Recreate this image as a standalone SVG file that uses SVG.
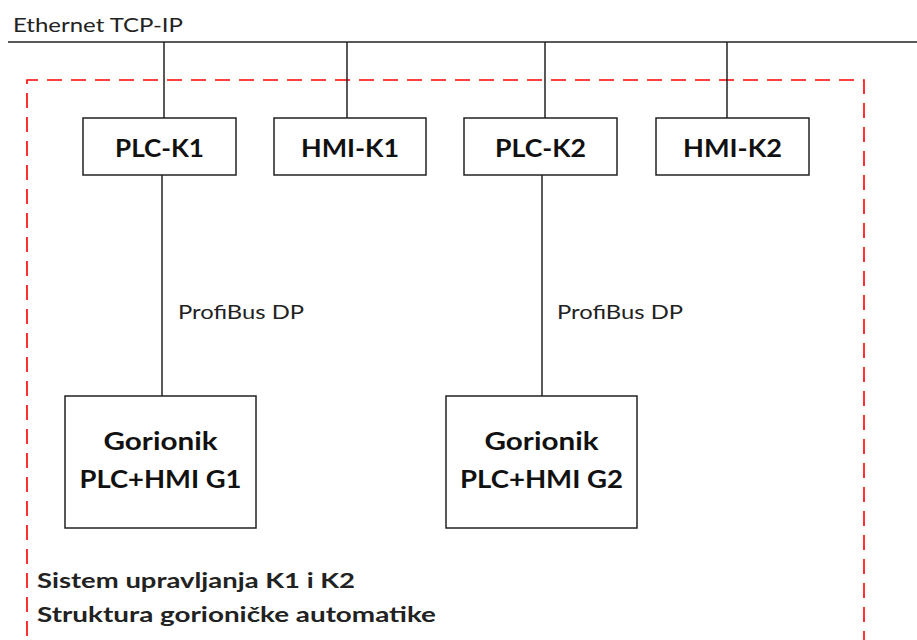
<svg xmlns="http://www.w3.org/2000/svg" width="917" height="640" viewBox="0 0 917 640">
<style>
.box{fill:#fff;stroke:#222;stroke-width:1.5}
.ln{stroke:#222;stroke-width:1.5;fill:none}
.bl{font-family:Lato,Roboto,"Liberation Sans",sans-serif;font-weight:bold;fill:#111;text-anchor:middle}
.t{font-family:Lato,Roboto,"Liberation Sans",sans-serif;fill:#222}
</style>
<rect width="917" height="640" fill="#fff"/>
<text class="t" x="13" y="31.5" font-size="20" textLength="170" lengthAdjust="spacingAndGlyphs">Ethernet TCP-IP</text>
<path d="M27,660 V80 H864 V660" fill="none" stroke="#f00" stroke-width="1.6" stroke-dasharray="15 9"/>
<g id="connectors">
<line class="ln" x1="8" y1="42" x2="917" y2="42"/>
<line class="ln" x1="164" y1="42" x2="164" y2="118"/>
<line class="ln" x1="347" y1="42" x2="347" y2="118"/>
<line class="ln" x1="545" y1="42" x2="545" y2="118"/>
<line class="ln" x1="727" y1="42" x2="727" y2="118"/>
<line class="ln" x1="162" y1="175" x2="162" y2="396"/>
<line class="ln" x1="542" y1="175" x2="542" y2="396"/>
<text class="t" x="178" y="319" font-size="20" textLength="126" lengthAdjust="spacingAndGlyphs">ProfiBus DP</text>
<text class="t" x="557" y="319" font-size="20" textLength="126" lengthAdjust="spacingAndGlyphs">ProfiBus DP</text>
</g>
<g id="plc-k1"><rect class="box" x="83" y="118" width="153" height="57"/><text class="bl" x="159.5" y="156.5" font-size="25" textLength="89" lengthAdjust="spacingAndGlyphs">PLC-K1</text></g>
<g id="hmi-k1"><rect class="box" x="274" y="118" width="152" height="57"/><text class="bl" x="350" y="156.5" font-size="25" textLength="98" lengthAdjust="spacingAndGlyphs">HMI-K1</text></g>
<g id="plc-k2"><rect class="box" x="464" y="118" width="153" height="57"/><text class="bl" x="540.5" y="156.5" font-size="25" textLength="91" lengthAdjust="spacingAndGlyphs">PLC-K2</text></g>
<g id="hmi-k2"><rect class="box" x="656" y="118" width="153" height="57"/><text class="bl" x="732.5" y="156.5" font-size="25" textLength="99" lengthAdjust="spacingAndGlyphs">HMI-K2</text></g>
<g id="g1"><rect class="box" x="65" y="396" width="191" height="132"/>
<text class="bl" x="160.5" y="449.5" font-size="25" textLength="114" lengthAdjust="spacingAndGlyphs">Gorionik</text>
<text class="bl" x="160.5" y="488" font-size="25" textLength="162" lengthAdjust="spacingAndGlyphs">PLC+HMI G1</text></g>
<g id="g2"><rect class="box" x="446" y="396" width="191" height="132"/>
<text class="bl" x="541.5" y="449.5" font-size="25" textLength="114" lengthAdjust="spacingAndGlyphs">Gorionik</text>
<text class="bl" x="541.5" y="488" font-size="25" textLength="163" lengthAdjust="spacingAndGlyphs">PLC+HMI G2</text></g>
<g id="caption">
<text class="t" x="37" y="588" font-size="20" font-weight="bold" fill="#111" textLength="318" lengthAdjust="spacingAndGlyphs">Sistem upravljanja K1 i K2</text>
<text class="t" x="37" y="621.5" font-size="20" font-weight="bold" fill="#111" textLength="399" lengthAdjust="spacingAndGlyphs">Struktura gorioničke automatike</text>
</g>
</svg>
